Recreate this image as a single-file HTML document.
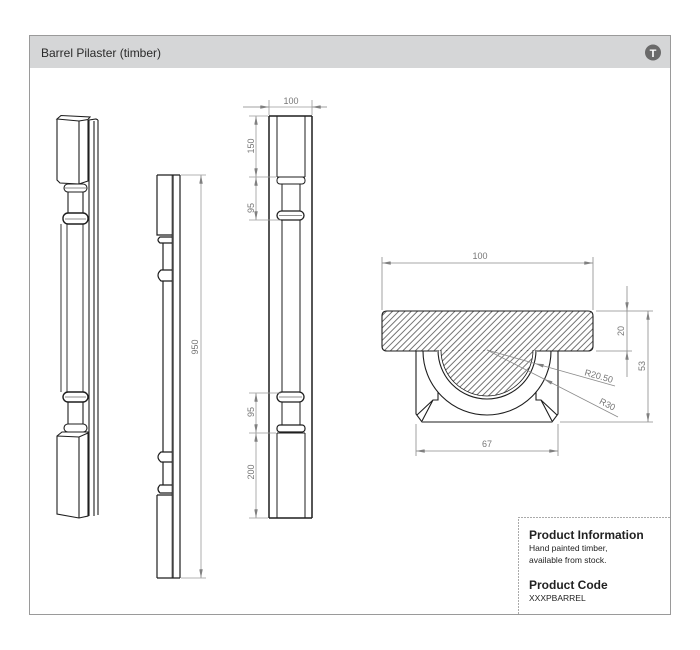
<!DOCTYPE html>
<html><head><meta charset="utf-8"><style>
html,body{margin:0;padding:0;background:#fff;width:700px;height:650px;overflow:hidden}
svg{display:block}
text{font-family:"Liberation Sans",sans-serif}
</style></head><body>
<svg width="700" height="650" viewBox="0 0 700 650" xmlns="http://www.w3.org/2000/svg">
<defs>
<marker id="a" viewBox="0 0 10 4" refX="10" refY="2" markerWidth="9" markerHeight="3.5" markerUnits="userSpaceOnUse" orient="auto-start-reverse"><path d="M0,0 L10,2 L0,4z" fill="#808080"/></marker>
<pattern id="h" patternUnits="userSpaceOnUse" width="4.4" height="4.4" patternTransform="rotate(45)"><line x1="0.5" y1="0" x2="0.5" y2="4.4" stroke="#3a3a3a" stroke-width="0.7"/></pattern>
</defs>

<!-- frame -->
<rect x="29.5" y="35.5" width="641" height="579" fill="#fff" stroke="#9a9a9a" stroke-width="1"/>
<rect x="30" y="36" width="640" height="32" fill="#d5d6d7"/>
<text x="41" y="57" font-size="12" fill="#2a2a2a">Barrel Pilaster (timber)</text>
<circle cx="653" cy="52.5" r="8" fill="#6a6a6a"/>
<text x="653" y="57" font-size="11" font-weight="bold" fill="#fff" text-anchor="middle" font-family="Liberation Serif, serif">T</text>

<!-- LEFT 3D pilaster -->
<g fill="none" stroke="#1e1e1e" stroke-width="1.1">
  <path d="M89,120 L89,516 M94,121 L94,516 M98,120 L98,515 M89,120 L96,119 L98,120"/>
  <path d="M57,119 L61,115.5 L90,117 L88,119.5 L79,121 L57,119 Z"/>
  <path d="M57,119 L57,180 L60,183 L79,184 L88,181 L88,119.5 M79,121 L79,184"/>
  <rect x="64" y="184" width="23" height="8" rx="4"/>
  <line x1="65" y1="188" x2="86" y2="188" stroke-width="0.6"/>
  <path d="M68,192 L68,213 M83,192 L83,213"/>
  <rect x="63" y="213" width="25" height="11" rx="5" stroke-width="1.4"/>
  <line x1="65" y1="219" x2="86" y2="219" stroke-width="0.6"/>
  <path d="M61,224 L61,392 M67,224 L67,392 M83,224 L83,392" stroke-width="0.9"/>
  <rect x="63" y="392" width="25" height="10" rx="5" stroke-width="1.4"/>
  <line x1="65" y1="397" x2="86" y2="397" stroke-width="0.6"/>
  <path d="M68,402 L68,424 M83,402 L83,424"/>
  <rect x="64" y="424" width="23" height="8" rx="4"/>
  <path d="M57,436 L62,432 L88,432 L88,516 L79,518 L57,514 Z M57,436 L79,437 L88,433 M79,437 L79,518"/>
</g>

<!-- MIDDLE side view -->
<g fill="none" stroke="#1e1e1e" stroke-width="1.2">
  <path d="M173,175 L173,578 M180,175 L180,578 M157,175 L180,175 M157,578 L180,578"/>
  <path d="M157,175 L157,235 L172,235"/>
  <path d="M172,175 L172,578" stroke-width="0.6"/>
  <path d="M172,237 L160,237 Q156,240 160,243 L172,243"/>
  <path d="M163,243 L163,270"/>
  <path d="M172,270 L161,270 Q155,275 161,281 L172,281"/>
  <path d="M163,281 L163,452"/>
  <path d="M172,452 L161,452 Q155,457 161,462 L172,462"/>
  <path d="M163,462 L163,485"/>
  <path d="M172,485 L160,485 Q156,489 160,493 L172,493"/>
  <path d="M157,495 L172,495 M157,495 L157,578"/>
</g>
<g stroke="#9a9a9a" stroke-width="0.8" fill="none">
  <path d="M181,175 L206,175 M181,578 L206,578"/>
  <line x1="201" y1="175" x2="201" y2="578" marker-start="url(#a)" marker-end="url(#a)"/>
</g>
<text transform="translate(198,347) rotate(-90)" font-size="9" fill="#777" text-anchor="middle">950</text>

<!-- FRONT view -->
<g fill="none" stroke="#1e1e1e" stroke-width="1.5">
  <path d="M269,116 L269,518 M312,116 L312,518 M269,116 L312,116 M269,518 L312,518"/>
</g>
<g fill="none" stroke="#1e1e1e" stroke-width="1">
  <path d="M277,116 L277,177 M305,116 L305,177 M277,177 L305,177"/>
  <rect x="277" y="177" width="28" height="7" rx="3"/>
  <path d="M282,184 L282,211 M300,184 L300,211"/>
  <rect x="277" y="211" width="27" height="9" rx="4.5" stroke-width="1.3"/>
  <line x1="279" y1="215.5" x2="302" y2="215.5" stroke-width="0.6"/>
  <path d="M282,220 L282,392 M300,220 L300,392"/>
  <rect x="277" y="392" width="27" height="10" rx="5" stroke-width="1.3"/>
  <line x1="279" y1="397" x2="302" y2="397" stroke-width="0.6"/>
  <path d="M282,402 L282,425 M300,402 L300,425"/>
  <rect x="277" y="425" width="28" height="7" rx="3" stroke-width="1.2"/>
  <path d="M277,433 L305,433 M277,433 L277,518 M305,433 L305,518"/>
</g>
<g stroke="#9a9a9a" stroke-width="0.8" fill="none">
  <path d="M269,100 L269,115 M312,100 L312,115"/>
  <line x1="243" y1="107" x2="327" y2="107"/>
  <line x1="243" y1="107" x2="269" y2="107" marker-end="url(#a)"/>
  <line x1="327" y1="107" x2="312" y2="107" marker-end="url(#a)"/>
  <path d="M249,116 L268,116 M249,177 L276,177 M249,220 L281,220 M249,393 L281,393 M249,433 L276,433 M249,518 L268,518"/>
  <line x1="256" y1="116" x2="256" y2="177" marker-start="url(#a)" marker-end="url(#a)"/>
  <line x1="256" y1="177" x2="256" y2="220" marker-start="url(#a)" marker-end="url(#a)"/>
  <line x1="256" y1="393" x2="256" y2="433" marker-start="url(#a)" marker-end="url(#a)"/>
  <line x1="256" y1="433" x2="256" y2="518" marker-start="url(#a)" marker-end="url(#a)"/>
</g>
<text x="291" y="104" font-size="9" fill="#777" text-anchor="middle">100</text>
<g font-size="9" fill="#777" text-anchor="middle">
  <text transform="translate(254,146) rotate(-90)">150</text>
  <text transform="translate(254,208) rotate(-90)">95</text>
  <text transform="translate(254,412) rotate(-90)">95</text>
  <text transform="translate(254,472) rotate(-90)">200</text>
</g>

<!-- CROSS SECTION -->
<g fill="url(#h)" stroke="none">
  <rect x="382" y="311" width="211" height="40" rx="5"/>
  <path d="M441,350 A46,46 0 0 0 533,350 Z"/>
</g>
<g fill="none" stroke="#1e1e1e" stroke-width="1.1">
  <path d="M437,351 L387,351 Q382,351 382,346 L382,316 Q382,311 387,311 L588,311 Q593,311 593,316 L593,346 Q593,351 588,351 L537,351"/>
  <path d="M438,350 A49,49 0 0 0 536,350"/>
  <path d="M441,350 A46,46 0 0 0 533,350" stroke-width="0.8"/>
  <path d="M423,351 A64,64 0 0 0 551,351"/>
  <path d="M416,351 L416,414 L422,422 L552,422 L558,414 L558,351"/>
  <path d="M438,392 L438,400 L433,400 L417,415 M433,400 L422,421"/>
  <path d="M536,392 L536,400 L541,400 L557,415 M541,400 L552,421"/>
</g>
<g stroke="#8a8a8a" stroke-width="0.8" fill="none">
  <path d="M382,257 L382,310 M593,257 L593,310"/>
  <line x1="382" y1="263" x2="593" y2="263" marker-start="url(#a)" marker-end="url(#a)"/>
  <path d="M596,311 L653,311 M596,351 L632,351 M560,422 L653,422"/>
  <line x1="627" y1="286" x2="627" y2="311" marker-end="url(#a)"/>
  <line x1="627" y1="377" x2="627" y2="351" marker-end="url(#a)"/>
  <line x1="627" y1="311" x2="627" y2="351"/>
  <line x1="648" y1="311" x2="648" y2="422" marker-start="url(#a)" marker-end="url(#a)"/>
  <path d="M416,424 L416,456 M558,424 L558,456"/>
  <line x1="416" y1="451" x2="558" y2="451" marker-start="url(#a)" marker-end="url(#a)"/>
  <line x1="615" y1="386" x2="535" y2="363.5" marker-end="url(#a)"/>
  <line x1="535" y1="363.5" x2="487" y2="350"/>
  <line x1="618" y1="417" x2="544" y2="379" marker-end="url(#a)"/>
  <line x1="544" y1="379" x2="487" y2="350"/>
</g>
<g font-size="9" fill="#777" text-anchor="middle">
  <text x="480" y="259">100</text>
  <text transform="translate(624,331) rotate(-90)">20</text>
  <text transform="translate(645,366) rotate(-90)">53</text>
  <text x="487" y="447">67</text>
  <text transform="translate(598,379) rotate(15.7)">R20.50</text>
  <text transform="translate(606,407) rotate(27)">R30</text>
</g>

<!-- Product info -->
<path d="M518.5,614 L518.5,517.5 L670,517.5" fill="none" stroke="#aaa" stroke-width="1" stroke-dasharray="2,1"/>
<text x="529" y="539" font-size="12" font-weight="bold" fill="#222">Product Information</text>
<text x="529" y="551" font-size="8.5" fill="#222">Hand painted timber,</text>
<text x="529" y="563" font-size="8.5" fill="#222">available from stock.</text>
<text x="529" y="589" font-size="12" font-weight="bold" fill="#222">Product Code</text>
<text x="529" y="601" font-size="8.5" fill="#222">XXXPBARREL</text>
</svg>
</body></html>
